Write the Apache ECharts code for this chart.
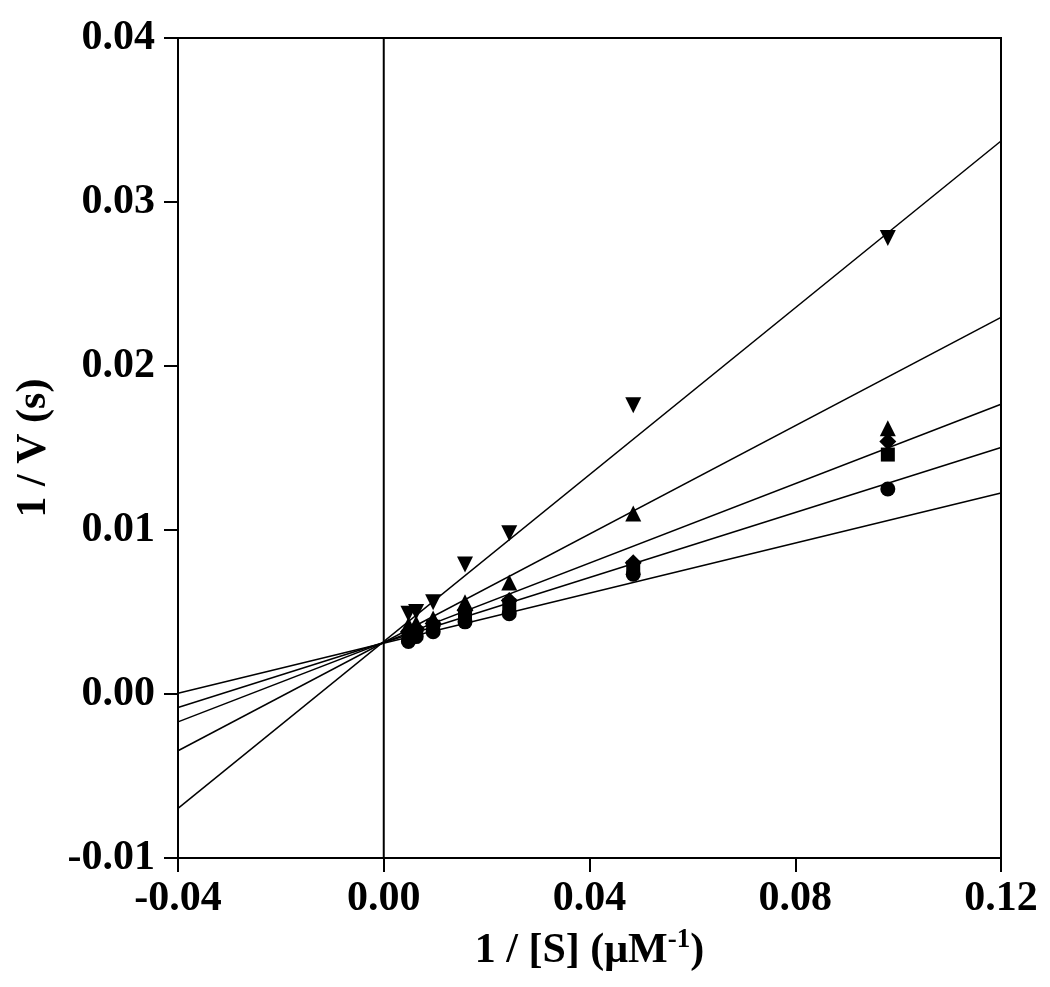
<!DOCTYPE html>
<html>
<head>
<meta charset="utf-8">
<script src="https://cdn.jsdelivr.net/npm/echarts@6/dist/echarts.min.js"></script>
<style>
    html, body { margin: 0; padding: 0; background: #fff; }
    #chart { width: 1050px; height: 987px; }
</style>
</head>
<body>
<div id="chart"></div>
<script>
// 1/[S] values (µM^-1)
const invS = [0.0048, 0.0063, 0.0096, 0.0158, 0.0244, 0.0485, 0.098];

// 1/V values per inhibitor level (s)
const circleV  = [0.0032, 0.0035, 0.0038, 0.0044, 0.0049, 0.0073, 0.0125];
const squareV  = [0.0035, 0.0037, 0.0041, 0.0048, 0.0054, 0.0077, 0.0146];
const diamondV = [0.0038, 0.0040, 0.0043, 0.0051, 0.0057, 0.0080, 0.0154];
const triUpV   = [0.0042, 0.0043, 0.0046, 0.0056, 0.0068, 0.0110, 0.0162];
const triDownV = [0.0049, 0.0050, 0.0056, 0.0079, 0.0098, 0.0176, 0.0278];

// fitted lines, read at both ends of the x range
const fitX = [-0.04, 0.12];
const circleFit  = [0.00004, 0.01226];
const squareFit  = [-0.00082, 0.01503];
const diamondFit = [-0.0017, 0.01767];
const triUpFit   = [-0.00346, 0.02296];
const triDownFit = [-0.00697, 0.03372];

// vertical line at x = 0
const zeroLineY = [-0.01, 0.04];

const font = 'Liberation Serif';

function pts(xs, ys) {
    return xs.map((x, i) => [x, ys[i]]);
}

function scatter(name, data, symbol, size, rotate) {
    return {
        name: name,
        type: 'scatter',
        data: pts(invS, data),
        symbol: symbol,
        symbolSize: size,
        symbolRotate: rotate || 0,
        itemStyle: { color: '#000', opacity: 1 },
        z: 5
    };
}

function fitLine(data) {
    return {
        type: 'line',
        data: pts(fitX, data),
        showSymbol: false,
        lineStyle: { color: '#000', width: 1.5 },
        z: 3
    };
}

var myChart = echarts.init(document.getElementById('chart'));

var options = {
    animation: false,
    grid: {
        left: 178,
        right: 49,
        top: 38,
        bottom: 129,
        show: true,
        borderColor: '#000',
        borderWidth: 2
    },
    xAxis: {
        type: 'value',
        min: -0.04,
        max: 0.12,
        interval: 0.04,
        name: '{n|1 / [S] (μM}{s|-1}{n|)}',
        nameLocation: 'middle',
        nameGap: 69,
        nameTextStyle: {
            rich: {
                n: { fontFamily: font, fontWeight: 'bold', fontSize: 42, color: '#000' },
                s: { fontFamily: font, fontWeight: 'bold', fontSize: 27, color: '#000', verticalAlign: 'top', padding: [0, 0, 22, 0] }
            }
        },
        axisLine: { show: true, onZero: false, lineStyle: { color: '#000', width: 2 } },
        axisTick: { show: true, inside: false, length: 14, lineStyle: { color: '#000', width: 2 } },
        axisLabel: {
            fontFamily: font,
            fontWeight: 'bold',
            fontSize: 42,
            color: '#000',
            margin: 20,
            formatter: v => v.toFixed(2)
        },
        splitLine: { show: false }
    },
    yAxis: {
        type: 'value',
        min: -0.01,
        max: 0.04,
        interval: 0.01,
        name: '1 / V (s)',
        nameLocation: 'middle',
        nameGap: 123,
        nameTextStyle: { fontFamily: font, fontWeight: 'bold', fontSize: 42, color: '#000' },
        axisLine: { show: true, onZero: false, lineStyle: { color: '#000', width: 2 } },
        axisTick: { show: true, inside: false, length: 14, lineStyle: { color: '#000', width: 2 } },
        axisLabel: {
            fontFamily: font,
            fontWeight: 'bold',
            fontSize: 42,
            color: '#000',
            margin: 23,
            formatter: v => v.toFixed(2)
        },
        splitLine: { show: false }
    },
    series: [
        {
            type: 'line',
            data: [[0, zeroLineY[0]], [0, zeroLineY[1]]],
            showSymbol: false,
            lineStyle: { color: '#000', width: 2 },
            z: 2
        },
        fitLine(circleFit),
        fitLine(squareFit),
        fitLine(diamondFit),
        fitLine(triUpFit),
        fitLine(triDownFit),
        scatter('circle', circleV, 'circle', 15),
        scatter('square', squareV, 'rect', 14),
        scatter('diamond', diamondV, 'diamond', 17),
        scatter('triUp', triUpV, 'triangle', 16),
        scatter('triDown', triDownV, 'triangle', 16, 180)
    ]
};

myChart.setOption(options);
</script>
</body>
</html>
